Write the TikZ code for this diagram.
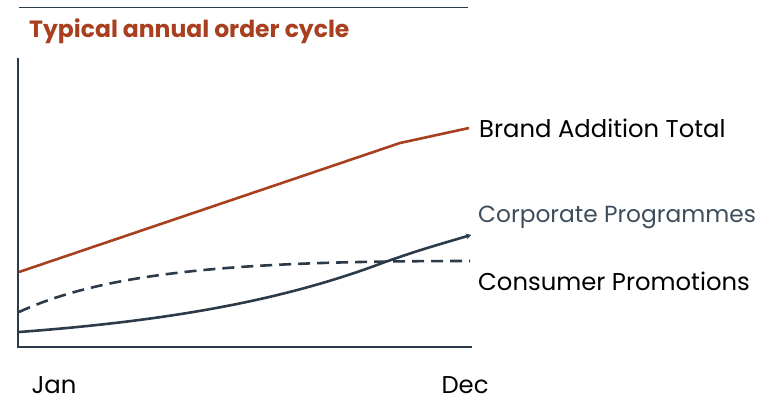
\documentclass[tikz,border=0pt]{standalone}
\usepackage{fontspec}
\setmainfont{Poppins}
\usepackage{tikz}
\usetikzlibrary{arrows.meta}

\definecolor{rust}{HTML}{A8401F}
\definecolor{slate}{HTML}{2C3B4A}
\definecolor{slatetext}{HTML}{3E4D5B}

\tikzset{
  curve/.style={line width=2.6pt},
  axis/.style={slate, line width=1.3pt},
  label/.style={anchor=base west, inner sep=0pt, font=\fontsize{24.3}{28}\selectfont},
  month/.style={anchor=base, inner sep=0pt, font=\fontsize{24.3}{28}\selectfont}
}

\begin{document}
\begin{tikzpicture}[x=1pt,y=-1pt]
\useasboundingbox (0,0) rectangle (765,400);

% title and rule
\draw[slate, line width=1pt] (19,7) -- (468,7);
\node[anchor=base west, inner sep=0pt, rust, font=\bfseries\fontsize{23.5}{26}\selectfont] (title) at (29,37) {Typical annual order cycle};

% axes
\coordinate (top) at (18,58);
\coordinate (origin) at (18,347);
\coordinate (right) at (472,347);
\draw[axis] (top) -- (origin) -- (right);

% curves
\coordinate (b0) at (19,272);
\coordinate (b1) at (400,143);
\coordinate (b2) at (469,128);
\draw[curve, rust] (b0) -- (b1) -- (b2);

\coordinate (c0) at (19,312);
\coordinate (c1) at (470,261);
\draw[curve, slate, dash pattern=on 12pt off 7pt] (c0) .. controls (110,270) and (250,261) .. (c1);

\coordinate (p0) at (19,332);
\coordinate (p1) at (385,262);
\coordinate (p2) at (471,235);
\draw[curve, slate, -{Stealth[length=5pt,width=6pt]}] (p0) .. controls (180,320) and (290,298) .. (p1) .. controls (420,250) .. (p2);

% labels
\node[label] (brand) at (479,137) {Brand Addition Total};
\node[label, slatetext, font=\fontsize{23.3}{28}\selectfont] (corp) at (478,222) {Corporate Programmes};
\node[label] (cons) at (478,290) {Consumer Promotions};

\node[month] (jan) at (54,393) {Jan};
\node[month] (dec) at (465,393) {Dec};
\end{tikzpicture}
\end{document}
